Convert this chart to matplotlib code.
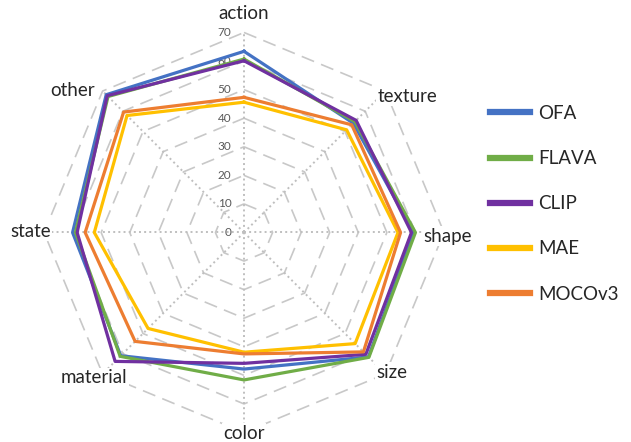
import numpy as np
import matplotlib
import matplotlib.pyplot as plt
import matplotlib.transforms as mtransforms
matplotlib.use('Agg')

plt.rcParams['font.family'] = ['Lato', 'DejaVu Sans']

# categories clockwise from the top
categories = ['action', 'texture', 'shape', 'size', 'color', 'material', 'state', 'other']

# scores
ofa = [63.4, 54.1, 59.4, 61.6, 47.8, 61.0, 60.0, 68.2]
flava = [60.7, 54.9, 60.0, 61.8, 51.6, 61.3, 59.0, 67.3]
clip = [60.1, 55.5, 58.6, 60.3, 45.8, 63.8, 58.4, 67.7]
mae = [45.6, 50.8, 53.9, 55.0, 41.9, 47.5, 52.4, 57.9]
mocov3 = [47.3, 53.3, 54.8, 59.1, 42.5, 53.9, 55.6, 59.6]

models = ['OFA', 'FLAVA', 'CLIP', 'MAE', 'MOCOv3']
scores = [ofa, flava, clip, mae, mocov3]
colors = ['#4472C4', '#70AD47', '#7030A0', '#FFC000', '#ED7D31']

ring_values = [10, 20, 30, 40, 50, 60, 70]
tick_values = [0, 10, 20, 30, 40, 50, 60, 70]

n = len(categories)
angles = np.linspace(0, 2 * np.pi, n, endpoint=False)
closed = np.append(angles, angles[0])

fig = plt.figure(figsize=(6.31, 4.42), dpi=100)
ax = fig.add_axes([0.0697, 0.0215, 0.634, 0.905], projection='polar')
ax.set_theta_zero_location('N')
ax.set_theta_direction(-1)
ax.set_ylim(0, 70)
ax.set_xticks([])
ax.set_yticks([])
ax.grid(False)
ax.spines['polar'].set_visible(False)
ax.patch.set_visible(False)

# octagon rings (dashed) and spokes (dotted)
for r in ring_values:
    ax.plot(closed, [r] * (n + 1), color='#C8C8C8', lw=1.2,
            dashes=(8, 4.5), zorder=1, clip_on=False)
for a in angles:
    ax.plot([a, a], [0, 70], color='#BFBFBF', lw=1.4, ls=':', zorder=1)

# series
for name, vals, c in zip(models, scores, colors):
    ax.plot(closed, vals + vals[:1], color=c, lw=2.3, label=name,
            zorder=3, clip_on=False)

# radial tick labels left of the top spoke
offset = mtransforms.offset_copy(ax.transData, fig=fig, x=-9, y=0, units='points')
for v in tick_values:
    ax.text(0, v, str(v), transform=offset, ha='right', va='center',
            fontsize=8.5, color='#595959', zorder=2)

# category labels
label_pos = [(0, 76.5), (50.1, 74.4), (91, 71.4), (133.4, 71.1),
             (180, 70.2), (225.9, 73.1), (270.4, 74.6), (309.6, 77.7)]
for lab, (deg, r) in zip(categories, label_pos):
    ax.text(np.deg2rad(deg), r, lab, ha='center', va='center', fontsize=13.5,
            color='#262626', zorder=4,
            bbox=dict(facecolor='white', edgecolor='none', pad=1))

leg = fig.legend(loc='center left', bbox_to_anchor=(0.777, 0.539), frameon=False,
                 fontsize=13.5, handlelength=2.1, handletextpad=0.45,
                 labelspacing=1.5, borderpad=0, borderaxespad=0)
for line in leg.get_lines():
    line.set_linewidth(4.5)
for t in leg.get_texts():
    t.set_color('#262626')

fig.savefig('out.png', dpi=100)
